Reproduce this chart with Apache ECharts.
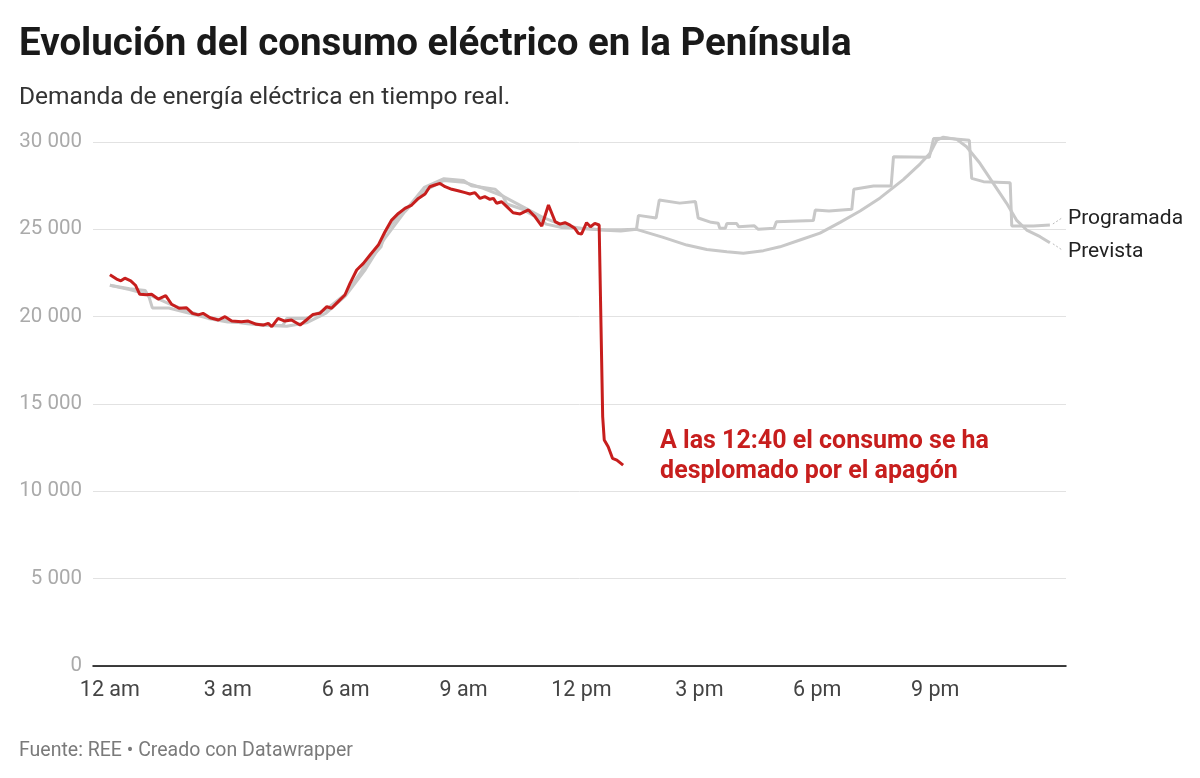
<!DOCTYPE html>
<html>
<head>
<meta charset="utf-8">
<script src="https://cdn.jsdelivr.net/npm/echarts@6/dist/echarts.min.js"></script>
<style>
  html, body { margin: 0; padding: 0; background: #fff; }
  #chart { width: 1200px; height: 778px; }
</style>
</head>
<body>
<div id="chart"></div>
<script>
// hours since midnight / MW
var realHours = [0.00,0.17,0.28,0.38,0.53,0.65,0.76,0.93,1.06,1.23,1.42,1.57,1.76,1.95,2.10,2.25,2.37,2.55,2.76,2.93,
  3.10,3.35,3.52,3.73,3.90,4.03,4.12,4.28,4.45,4.62,4.84,5.00,5.17,5.34,5.52,5.64,5.81,5.98,6.11,6.28,
  6.45,6.62,6.83,7.00,7.17,7.34,7.51,7.68,7.85,8.02,8.14,8.27,8.40,8.53,8.70,8.86,9.04,9.16,9.29,9.42,
  9.54,9.67,9.76,9.84,9.97,10.10,10.26,10.44,10.65,10.82,10.99,11.16,11.33,11.45,11.58,11.71,11.83,11.92,12.00,12.13,
  12.23,12.34,12.45,12.49,12.54,12.58,12.68,12.79,12.90,13.06];
var realValues = [22400,22150,22050,22200,22050,21800,21280,21250,21280,21010,21200,20710,20480,20510,20190,20100,20190,19940,19810,20000,
  19750,19710,19750,19560,19520,19620,19430,19900,19750,19810,19520,19810,20130,20190,20570,20480,20860,21240,21910,22670,
  23050,23530,24100,24860,25530,25910,26200,26390,26770,27020,27440,27540,27630,27440,27290,27210,27100,27020,27100,26770,
  26870,26720,26770,26490,26580,26300,25950,25880,26110,25720,25190,26390,25440,25300,25380,25240,25060,24770,24730,25380,
  25150,25340,25250,25300,14270,12940,12550,11890,11790,11500];

var prevHours = [0,0.5,1,1.5,2,2.5,3,3.5,4,4.5,5,5.5,6,6.5,7,7.5,8,8.5,9,9.5,10,10.5,11,11.5,12,12.5,13,13.4,
  14.08,14.68,15.19,15.7,16.12,16.63,17.05,17.56,18.07,18.58,19.09,19.6,20.19,20.62,20.87,21.04,21.21,21.55,21.8,22.14,22.48,22.82,23.07,23.33,23.67,23.92];
var prevValues = [21800,21550,21250,20750,20300,19950,19750,19600,19500,19450,19650,20200,21200,22700,24500,26000,27200,27800,27700,27350,26900,26300,25700,25250,25050,24980,24980,25000,
  24540,24100,23850,23720,23630,23780,24000,24390,24780,25400,26050,26800,27850,28750,29350,30100,30280,30150,29730,28780,27630,26490,25530,24960,24580,24230];

var progHours = [0,0.5,0.9,1.0,1.08,1.5,2,2.5,3,3.5,4,4.4,4.5,5,5.2,5.5,6,6.4,6.5,6.9,7.0,7.5,7.6,8,8.5,9,9.2,9.8,10.0,10.1,10.5,11,11.1,11.5,12.1,12.6,13.0,13.4,
  13.45,13.9,13.98,14.5,14.9,14.97,15.3,15.48,15.52,15.66,15.7,15.95,16.0,16.4,16.5,16.9,16.96,17.9,17.95,18.3,18.88,18.93,19.43,19.88,19.94,20.85,20.96,21.3,21.87,21.93,22.23,22.91,22.95,23.5,23.92];
var progValues = [21800,21600,21500,21100,20500,20500,20200,19900,19700,19650,19500,19500,19900,19900,20100,20400,21300,22600,23000,24000,24800,26200,26300,27400,27900,27800,27500,27300,26900,26450,26150,25500,25300,25100,25050,24950,24900,25000,
  25800,25650,26680,26500,26600,25650,25400,25350,25060,25060,25340,25340,25150,25200,25000,25060,25440,25500,26100,26050,26150,27290,27480,27480,29160,29120,30200,30210,30100,27920,27730,27670,25190,25190,25250];

var xTicks = [0, 3, 6, 9, 12, 15, 18, 21];
var xTickLabels = ['12 am', '3 am', '6 am', '9 am', '12 pm', '3 pm', '6 pm', '9 pm'];

function pairs(h, v) {
  var out = [];
  for (var i = 0; i < h.length; i++) out.push([h[i], v[i]]);
  return out;
}

var FONT = 'Roboto';
var GRAY = '#c8c8c8';
var RED = '#c71e1d';

var chart = echarts.init(document.getElementById('chart'));

var option = {
  animation: false,
  backgroundColor: '#fff',
  textStyle: { fontFamily: FONT },
  title: [{
    text: 'Evolución del consumo eléctrico en la Península',
    subtext: 'Demanda de energía eléctrica en tiempo real.',
    left: 14,
    top: 18,
    itemGap: 16,
    textStyle: { fontFamily: FONT, fontSize: 38.5, fontWeight: 'bold', color: '#1a1a1a', lineHeight: 44 },
    subtextStyle: { fontFamily: FONT, fontSize: 24.5, color: '#333', lineHeight: 30 }
  }, {
    text: 'Fuente: REE • Creado con Datawrapper',
    left: 14,
    top: 736,
    textStyle: { fontFamily: FONT, fontSize: 19.5, fontWeight: 'normal', color: '#7a7a7a' }
  }],
  grid: { left: 93, right: 134, top: 142, bottom: 112, containLabel: false },
  xAxis: {
    type: 'value',
    min: -0.43,
    max: 24.33,
    axisLine: { show: true, lineStyle: { color: '#000', width: 1.5 } },
    axisTick: { show: false },
    splitLine: { show: false },
    axisLabel: {
      customValues: xTicks,
      margin: 14,
      fontFamily: FONT,
      fontSize: 21.5,
      color: '#444',
      formatter: function (v) {
        var i = xTicks.indexOf(v);
        return i >= 0 ? xTickLabels[i] : '';
      }
    }
  },
  yAxis: {
    type: 'value',
    min: 0,
    max: 30000,
    interval: 5000,
    axisLine: { show: false },
    axisTick: { show: false },
    splitLine: { lineStyle: { color: '#e2e2e2', width: 1 } },
    axisLabel: {
      margin: 11,
      fontFamily: FONT,
      fontSize: 20.5,
      color: '#aaa',
      formatter: function (v) {
        return String(v).replace(/\B(?=(\d{3})+(?!\d))/g, ' ');
      }
    }
  },
  series: [
    {
      name: 'Prevista',
      type: 'line',
      data: pairs(prevHours, prevValues),
      showSymbol: false,
      clip: false,
      lineStyle: { color: GRAY, width: 3 },
      itemStyle: { color: GRAY },
      endLabel: {
        show: true,
        formatter: 'Prevista',
        offset: [10, 9],
        fontFamily: FONT,
        fontSize: 21,
        color: '#222'
      },
      z: 2
    },
    {
      name: 'Programada',
      type: 'line',
      data: pairs(progHours, progValues),
      showSymbol: false,
      clip: false,
      lineStyle: { color: GRAY, width: 3 },
      itemStyle: { color: GRAY },
      endLabel: {
        show: true,
        formatter: 'Programada',
        offset: [10, -6],
        fontFamily: FONT,
        fontSize: 21,
        color: '#222'
      },
      z: 2
    },
    {
      name: 'Real',
      type: 'line',
      data: pairs(realHours, realValues),
      showSymbol: false,
      clip: false,
      lineStyle: { color: RED, width: 3 },
      itemStyle: { color: RED },
      z: 5
    }
  ]
};

chart.setOption(option);

// annotation next to the drop + dotted leaders to the end labels
var anchor = chart.convertToPixel({ gridIndex: 0 }, [14.0, 12100]);
var progEnd = chart.convertToPixel({ gridIndex: 0 }, [progHours[progHours.length - 1], progValues[progValues.length - 1]]);
var prevEnd = chart.convertToPixel({ gridIndex: 0 }, [prevHours[prevHours.length - 1], prevValues[prevValues.length - 1]]);
var leader = { stroke: '#bbb', lineWidth: 1, lineDash: [2, 2] };

chart.setOption({
  graphic: [{
    type: 'text',
    left: anchor[0],
    top: anchor[1] - 28,
    style: {
      text: 'A las 12:40 el consumo se ha\ndesplomado por el apagón',
      font: 'bold 25px Roboto',
      fill: RED,
      lineHeight: 30
    }
  }, {
    type: 'line',
    shape: { x1: progEnd[0] + 3, y1: progEnd[1] - 1, x2: progEnd[0] + 12, y2: progEnd[1] - 7 },
    style: leader
  }, {
    type: 'line',
    shape: { x1: prevEnd[0] + 3, y1: prevEnd[1] + 1, x2: prevEnd[0] + 12, y2: prevEnd[1] + 7 },
    style: leader
  }]
});
</script>
</body>
</html>
